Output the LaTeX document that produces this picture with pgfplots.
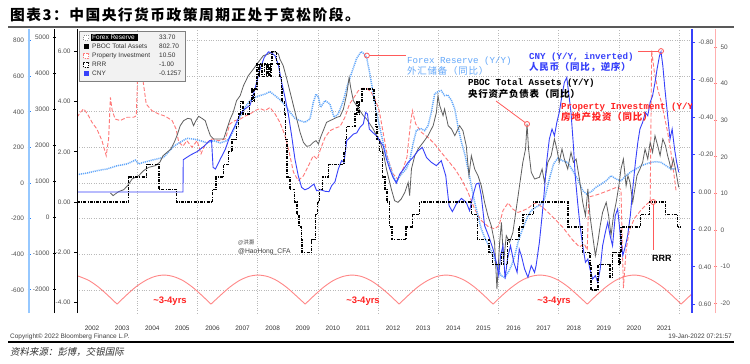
\documentclass[border=0pt]{standalone}
\usepackage{pgfplots}
\pgfplotsset{compat=1.18}
\usepackage{fontspec}
\setmainfont{Liberation Sans}
\newfontfamily\mono{Liberation Mono}
\newfontfamily\cjk{Noto Sans CJK SC}
\newfontfamily\cjkl[LetterSpace=8]{Noto Sans CJK SC}
\newfontfamily\cjktitle[LetterSpace=10]{Noto Sans CJK SC}
\newfontfamily\cjkit[FakeSlant=0.2]{Noto Sans CJK SC}
\definecolor{fxblue}{RGB}{100,168,250}
\definecolor{fxaxis}{RGB}{150,200,255}
\definecolor{fxtick}{RGB}{40,130,250}
\definecolor{cnyblue}{RGB}{55,65,250}
\definecolor{propred}{RGB}{255,120,120}
\definecolor{propaxis}{RGB}{255,175,175}
\definecolor{arcred}{RGB}{255,135,135}
\definecolor{pbocgray}{RGB}{95,95,95}
\definecolor{labred}{RGB}{255,35,35}
\definecolor{ptrred}{RGB}{255,90,90}
\definecolor{ticklab}{RGB}{80,80,80}
\definecolor{gridc}{RGB}{185,185,185}
\pgfplotsset{
  tl/.style={font=\fontsize{6.5}{7}\selectfont, text=ticklab},
  base/.style={at={(77bp,50bp)}, anchor=south west, width=615bp, height=284bp,
    scale only axis, xmin=2002, xmax=2022.43},
  scaleax/.style={anchor=south west, width=1bp, height=284bp, scale only axis,
    xmin=0, xmax=1, axis x line=none, yticklabel style={tl}, tick align=outside,
    major tick length=3bp},
}
\begin{document}
\begin{tikzpicture}[x=1bp,y=1bp]
\path[use as bounding box] (0,0) rectangle (750,363);
\fill[white] (0,0) rectangle (750,363);
% title and rules
\node[anchor=west, inner sep=0] at (10,348) {\cjktitle\bfseries\fontsize{14.8}{16}\selectfont 图表3：中国央行货币政策周期正处于宽松阶段。};
\draw[line width=1.8bp, black!65] (8,336) -- (734,336);
\draw[line width=1.4bp, black] (8,21) -- (734,21);
\node[anchor=west, inner sep=0, text=black!75, font=\fontsize{6.5}{7}\selectfont] at (10,26.5) {Copyright© 2022 Bloomberg Finance L.P.};
\node[anchor=east, inner sep=0, text=black!75, font=\fontsize{6.5}{7}\selectfont] at (732,26.5) {19-Jan-2022 07:21:57};
\node[anchor=west, inner sep=0, text=black!80] at (10,11) {\cjkit\fontsize{9.5}{10}\selectfont 资料来源：彭博，交银国际};

% grid, year labels, arcs
\begin{axis}[base, ymin=-730, ymax=865,
  axis line style={draw=none}, tick style={draw=none},
  xtick={2002.5,2003.5,2004.5,2005.5,2006.5,2007.5,2008.5,2009.5,2010.5,2011.5,2012.5,2013.5,2014.5,2015.5,2016.5,2017.5,2018.5,2019.5,2020.5,2021.5},
  xticklabels={2002,2003,2004,2005,2006,2007,2008,2009,2010,2011,2012,2013,2014,2015,2016,2017,2018,2019,2020,2021},
  xticklabel style={tl, text=black!80, yshift=-9bp},
  ytick={-600,-400,-200,0,200,400,600,800}, yticklabels={,,},
  ymajorgrids, xmajorgrids=false,
  extra x ticks={2004,2006,2008,2010,2012,2014,2016,2018,2020,2022}, extra x tick labels={,,},
  extra x tick style={grid=major},
  grid style={gridc, dotted, line width=0.6bp},
]
\addplot[arcred, line width=0.9bp, smooth] coordinates {(2002.00,-521)(2002.08,-525)(2002.40,-548)(2002.71,-584)(2003.02,-630)(2003.33,-680)};
\addplot[arcred, line width=0.9bp, smooth] coordinates {(2003.33,-680)(2003.64,-630)(2003.95,-584)(2004.27,-548)(2004.58,-525)(2004.89,-517)(2005.20,-525)(2005.52,-548)(2005.83,-584)(2006.14,-630)(2006.45,-680)};
\addplot[arcred, line width=0.9bp, smooth] coordinates {(2006.45,-680)(2006.77,-630)(2007.08,-584)(2007.39,-548)(2007.70,-525)(2008.01,-517)(2008.33,-525)(2008.64,-548)(2008.95,-584)(2009.26,-630)(2009.58,-680)};
\addplot[arcred, line width=0.9bp, smooth] coordinates {(2009.58,-680)(2009.89,-630)(2010.20,-584)(2010.51,-548)(2010.83,-525)(2011.14,-517)(2011.45,-525)(2011.76,-548)(2012.07,-584)(2012.39,-630)(2012.70,-680)};
\addplot[arcred, line width=0.9bp, smooth] coordinates {(2012.70,-680)(2013.01,-630)(2013.32,-584)(2013.64,-548)(2013.95,-525)(2014.26,-517)(2014.57,-525)(2014.89,-548)(2015.20,-584)(2015.51,-630)(2015.82,-680)};
\addplot[arcred, line width=0.9bp, smooth] coordinates {(2015.82,-680)(2016.13,-630)(2016.45,-584)(2016.76,-548)(2017.07,-525)(2017.38,-517)(2017.70,-525)(2018.01,-548)(2018.32,-584)(2018.63,-630)(2018.95,-680)};
\addplot[arcred, line width=0.9bp, smooth] coordinates {(2018.95,-680)(2019.26,-630)(2019.57,-584)(2019.88,-548)(2020.20,-525)(2020.51,-517)(2020.82,-525)(2021.13,-548)(2021.45,-584)(2021.76,-630)(2022.07,-680)};
\addplot[arcred, line width=0.9bp, smooth] coordinates {(2022.07,-680)(2022.38,-630)(2022.50,-612)};
\end{axis}

% Property investment (red axis)
\begin{axis}[base, ymin=-22.68, ymax=54.92, hide axis]
\addplot[propred, line width=0.9bp, dash pattern=on 4bp off 2bp] coordinates {
(2002.00,30.8)(2002.11,32.1)(2002.22,33.1)(2002.35,31.7)(2002.50,29.4)(2002.66,27.6)(2002.83,24.4)(2002.97,20.3)(2003.05,24.9)(2003.11,36.2)(2003.17,32.6)(2003.27,30.3)(2003.44,29.9)(2003.66,30.8)(2003.88,30.8)(2003.97,31.2)(2004.03,45.8)(2004.08,47.6)(2004.17,42.2)(2004.30,34.4)(2004.49,32.6)(2004.71,31.7)(2004.93,31.1)(2005.16,29.9)(2005.29,27.6)(2005.38,24.0)(2005.52,22.9)(2005.65,24.4)(2005.82,22.6)(2005.99,24.4)(2006.12,20.8)(2006.26,23.5)(2006.49,24.9)(2006.71,24.4)(2006.93,24.9)(2007.08,29.0)(2007.25,29.9)(2007.42,30.3)(2007.58,31.1)(2007.75,31.7)(2007.91,32.6)(2008.08,33.2)(2008.25,32.6)(2008.41,33.5)(2008.58,31.7)(2008.74,29.4)(2008.91,25.8)(2009.05,21.2)(2009.19,15.8)(2009.35,13.5)(2009.52,14.8)(2009.69,17.6)(2009.85,20.3)(2009.98,19.4)(2010.09,22.1)(2010.24,25.3)(2010.40,27.1)(2010.57,27.8)(2010.74,28.3)(2010.90,30.8)(2011.05,34.4)(2011.20,36.2)(2011.35,38.1)(2011.49,38.7)(2011.62,38.7)(2011.76,37.8)(2011.90,35.8)(2012.04,32.6)(2012.15,27.5)(2012.33,19.4)(2012.50,15.3)(2012.66,13.9)(2012.83,16.7)(2012.96,19.9)(2013.07,28.5)(2013.14,32.6)(2013.25,29.0)(2013.44,26.7)(2013.66,25.3)(2013.88,23.5)(2014.10,21.2)(2014.33,18.9)(2014.55,16.7)(2014.77,13.9)(2014.99,10.3)(2015.21,5.7)(2015.43,2.6)(2015.65,1.0)(2015.87,0.3)(2016.02,1.2)(2016.15,5.3)(2016.32,7.4)(2016.48,5.7)(2016.65,4.8)(2016.81,5.3)(2016.98,5.9)(2017.15,7.1)(2017.25,7.4)(2017.50,6.0)(2017.80,3.6)(2018.13,0.8)(2018.46,-2.7)(2018.69,-4.6)(2018.85,-3.8)(2018.95,-5.5)(2019.00,9.0)(2019.30,9.7)(2019.60,10.6)(2019.96,11.8)(2020.07,11.0)(2020.15,-15.9)(2020.24,-5.5)(2020.35,0.0)(2020.52,3.2)(2020.74,5.5)(2020.96,7.3)(2021.04,7.7)(2021.09,49.0)(2021.18,43.1)(2021.29,38.5)(2021.40,35.3)(2021.51,31.2)(2021.62,26.7)(2021.73,21.2)(2021.82,15.8)(2021.90,10.7)};
\end{axis}

% Forex reserve
\begin{axis}[base, ymin=-730, ymax=865, hide axis]
\addplot[fxblue, line width=1.5bp, dash pattern=on 1.1bp off 0.9bp] coordinates {
(2002.00,47)(2002.33,56)(2002.66,69)(2003.00,79)(2003.33,97)(2003.66,107)(2003.94,129)(2004.05,107)(2004.21,116)(2004.55,131)(2004.88,144)(2005.21,206)(2005.43,229)(2005.65,251)(2005.87,247)(2006.10,238)(2006.32,225)(2006.54,238)(2006.76,225)(2006.98,238)(2007.08,257)(2007.25,313)(2007.42,375)(2007.58,425)(2007.75,463)(2007.91,481)(2008.08,491)(2008.25,500)(2008.41,513)(2008.58,491)(2008.74,468)(2008.91,438)(2009.08,397)(2009.24,363)(2009.41,350)(2009.57,341)(2009.74,360)(2009.85,453)(2009.94,500)(2010.02,481)(2010.09,425)(2010.24,463)(2010.40,444)(2010.54,369)(2010.68,388)(2010.85,463)(2010.98,547)(2011.13,622)(2011.29,700)(2011.44,738)(2011.54,725)(2011.62,706)(2011.73,612)(2011.84,500)(2011.95,397)(2012.07,303)(2012.17,225)(2012.28,154)(2012.39,97)(2012.50,41)(2012.61,4)(2012.72,37)(2012.83,60)(2012.94,79)(2013.05,125)(2013.16,219)(2013.27,294)(2013.41,307)(2013.55,294)(2013.66,322)(2013.77,397)(2013.88,500)(2013.99,513)(2014.10,519)(2014.21,491)(2014.32,494)(2014.44,463)(2014.55,416)(2014.66,313)(2014.77,229)(2014.88,163)(2014.99,79)(2015.10,-15)(2015.21,-109)(2015.32,-184)(2015.43,-258)(2015.54,-305)(2015.65,-343)(2015.76,-380)(2015.87,-427)(2015.98,-483)(2016.09,-521)(2016.21,-530)(2016.32,-502)(2016.43,-465)(2016.54,-408)(2016.65,-333)(2016.76,-277)(2016.87,-230)(2016.98,-184)(2017.09,-155)(2017.20,-140)(2017.36,-125)(2017.53,-90)(2017.69,22)(2017.83,107)(2017.97,139)(2018.13,125)(2018.30,116)(2018.47,69)(2018.63,22)(2018.80,-43)(2018.93,-62)(2019.08,-49)(2019.24,-24)(2019.41,-6)(2019.58,13)(2019.74,41)(2019.91,22)(2020.07,13)(2020.24,41)(2020.41,64)(2020.57,79)(2020.74,97)(2020.90,107)(2021.07,116)(2021.24,120)(2021.40,116)(2021.57,97)(2021.73,79)(2021.90,79)};
\addplot[only marks, mark=o, mark size=2.5bp, ptrred, mark options={line width=0.8bp}] coordinates {(2011.63,716)};
\coordinate (fxpt) at (axis cs:2011.63,716);
\end{axis}

% PBOC total assets
\begin{axis}[base, ymin=-2667, ymax=5223, hide axis]
\addplot[pbocgray, line width=0.8bp] coordinates {
(2003.11,667)(2003.20,593)(2003.27,639)(2003.38,704)(2003.55,759)(2003.68,870)(2003.83,1056)(2004.05,1148)(2004.21,1287)(2004.38,1380)(2004.60,1426)(2004.75,1519)(2004.86,1704)(2004.99,1796)(2005.12,1889)(2005.23,2074)(2005.32,2259)(2005.43,2537)(2005.54,2676)(2005.68,2741)(2005.79,2722)(2005.87,2537)(2005.95,2676)(2006.04,2797)(2006.15,2741)(2006.26,2676)(2006.35,2445)(2006.43,2259)(2006.54,2167)(2006.71,2167)(2006.87,2167)(2006.98,2445)(2007.09,2722)(2007.19,2908)(2007.30,3232)(2007.42,3371)(2007.53,3648)(2007.69,3926)(2007.86,4111)(2008.02,4297)(2008.19,4482)(2008.36,4528)(2008.47,4574)(2008.58,4593)(2008.69,4528)(2008.74,4389)(2008.85,4204)(2008.97,3834)(2009.08,3463)(2009.19,3093)(2009.30,2722)(2009.41,2352)(2009.52,2074)(2009.63,1963)(2009.74,1982)(2009.85,2074)(2009.94,2121)(2010.02,2028)(2010.09,2213)(2010.18,2398)(2010.29,2630)(2010.40,2676)(2010.52,2722)(2010.63,2769)(2010.74,2797)(2010.85,3000)(2010.96,3417)(2011.04,3880)(2011.09,3602)(2011.18,3232)(2011.29,3093)(2011.40,2954)(2011.51,2815)(2011.62,2722)(2011.73,2584)(2011.84,2445)(2011.95,2259)(2012.06,2121)(2012.17,1800)(2012.28,1333)(2012.44,778)(2012.55,454)(2012.66,407)(2012.77,500)(2012.89,685)(2013.00,963)(2013.05,593)(2013.11,1333)(2013.22,1704)(2013.33,1889)(2013.50,2074)(2013.66,2259)(2013.83,2537)(2013.94,2908)(2013.99,3371)(2014.05,3093)(2014.16,2815)(2014.21,3000)(2014.33,2537)(2014.44,2445)(2014.55,2259)(2014.71,2537)(2014.82,2398)(2014.93,1982)(2015.02,1148)(2015.10,1704)(2015.21,1333)(2015.32,1148)(2015.43,870)(2015.54,407)(2015.65,37)(2015.76,-241)(2015.87,-704)(2015.95,-2000)(2016.04,-704)(2016.10,-148)(2016.17,-1259)(2016.26,-519)(2016.37,-704)(2016.48,-426)(2016.59,222)(2016.70,870)(2016.81,1519)(2016.90,1889)(2016.95,2584)(2017.00,1889)(2017.09,1241)(2017.20,1056)(2017.36,1102)(2017.45,1333)(2017.53,963)(2017.64,1519)(2017.75,1704)(2017.86,2167)(2017.94,1889)(2018.02,1519)(2018.11,1889)(2018.19,1611)(2018.30,1333)(2018.41,1796)(2018.49,1519)(2018.58,1611)(2018.69,1056)(2018.80,407)(2018.89,37)(2018.97,778)(2019.04,37)(2019.13,-519)(2019.22,-1074)(2019.30,-704)(2019.38,-241)(2019.46,130)(2019.58,407)(2019.66,37)(2019.74,-519)(2019.82,37)(2019.91,407)(2020.00,870)(2020.07,1333)(2020.15,1611)(2020.24,870)(2020.30,1148)(2020.37,963)(2020.46,407)(2020.53,778)(2020.60,1148)(2020.70,1333)(2020.79,1519)(2020.87,1889)(2020.96,1611)(2021.04,2074)(2021.12,1796)(2021.20,2259)(2021.29,1982)(2021.37,1704)(2021.46,2167)(2021.55,1982)(2021.62,1704)(2021.68,1519)(2021.73,1333)(2021.81,1611)(2021.88,1333)(2021.95,1009)(2021.99,824)};
\addplot[only marks, mark=o, mark size=2.5bp, ptrred, mark options={line width=0.8bp}] coordinates {(2016.95,2584)};
\coordinate (pbocpt) at (axis cs:2016.95,2584);
\end{axis}

% CNY (inverted, right blue axis)
\begin{axis}[base, ymin=-0.872, ymax=0.647, y dir=reverse,
  axis x line=none, axis y line*=right,
  y axis line style={-, cnyblue, line width=1.2bp},
  ytick={-0.8,-0.6,-0.4,-0.2,0,0.2,0.4,0.6},
  yticklabels={-0.80,-0.60,-0.40,-0.20,0.00,0.20,0.40,0.60},
  yticklabel style={tl}, tick align=outside, major tick length=3bp,
  ytick style={cnyblue, line width=0.8bp}]
\addplot[cnyblue, line width=0.9bp] coordinates {
(2002.00,0)(2005.52,0)(2005.53,-0.173)(2005.77,-0.198)(2005.99,-0.216)(2006.21,-0.244)(2006.41,-0.275)(2006.47,-0.275)(2006.52,-0.132)(2006.60,-0.123)(2006.76,-0.176)(2006.93,-0.230)(2007.08,-0.298)(2007.25,-0.355)(2007.42,-0.417)(2007.58,-0.444)(2007.75,-0.465)(2007.91,-0.551)(2008.08,-0.658)(2008.22,-0.720)(2008.36,-0.750)(2008.47,-0.743)(2008.58,-0.729)(2008.69,-0.679)(2008.80,-0.586)(2008.91,-0.506)(2009.02,-0.417)(2009.13,-0.301)(2009.24,-0.176)(2009.35,-0.087)(2009.46,-0.025)(2009.57,-0.012)(2009.69,-0.020)(2009.80,-0.034)(2009.87,-0.043)(2009.96,-0.007)(2010.09,-0.012)(2010.24,-0.004)(2010.37,-0.002)(2010.46,-0.034)(2010.57,-0.055)(2010.68,-0.123)(2010.79,-0.168)(2010.87,-0.159)(2010.96,-0.275)(2011.07,-0.292)(2011.18,-0.310)(2011.29,-0.316)(2011.40,-0.346)(2011.51,-0.364)(2011.59,-0.426)(2011.65,-0.417)(2011.71,-0.337)(2011.82,-0.319)(2011.95,-0.301)(2012.09,-0.266)(2012.17,-0.248)(2012.28,-0.176)(2012.39,-0.123)(2012.50,-0.078)(2012.61,-0.048)(2012.72,-0.096)(2012.85,-0.123)(2013.00,-0.159)(2013.16,-0.185)(2013.33,-0.221)(2013.47,-0.239)(2013.61,-0.185)(2013.77,-0.159)(2013.94,-0.141)(2014.10,-0.168)(2014.25,-0.087)(2014.36,0.073)(2014.47,0.105)(2014.60,0.064)(2014.77,0.034)(2014.93,0.055)(2015.04,0.100)(2015.15,0.020)(2015.26,-0.043)(2015.35,-0.048)(2015.43,0.020)(2015.54,0.180)(2015.69,0.242)(2015.82,0.305)(2015.93,0.376)(2016.01,0.447)(2016.07,0.340)(2016.15,0.287)(2016.22,0.465)(2016.30,0.358)(2016.40,0.287)(2016.51,0.376)(2016.62,0.430)(2016.69,0.305)(2016.76,0.340)(2016.87,0.412)(2016.98,0.456)(2017.09,0.394)(2017.20,0.430)(2017.25,0.394)(2017.36,0.269)(2017.45,0.127)(2017.53,-0.016)(2017.60,-0.159)(2017.69,-0.283)(2017.78,-0.337)(2017.86,-0.301)(2017.94,-0.373)(2018.02,-0.426)(2018.11,-0.515)(2018.19,-0.586)(2018.27,-0.613)(2018.33,-0.533)(2018.41,-0.426)(2018.49,-0.248)(2018.55,-0.087)(2018.63,0.055)(2018.71,0.180)(2018.80,0.287)(2018.89,0.376)(2018.97,0.358)(2019.04,0.412)(2019.13,0.465)(2019.22,0.447)(2019.30,0.483)(2019.38,0.412)(2019.46,0.287)(2019.55,0.216)(2019.63,0.162)(2019.71,0.234)(2019.79,0.287)(2019.88,0.127)(2019.96,0.091)(2020.04,0.216)(2020.13,0.340)(2020.22,0.287)(2020.29,0.234)(2020.38,0.127)(2020.46,-0.016)(2020.55,-0.159)(2020.63,-0.266)(2020.70,-0.337)(2020.79,-0.373)(2020.88,-0.426)(2020.96,-0.408)(2021.04,-0.480)(2021.12,-0.515)(2021.20,-0.586)(2021.27,-0.658)(2021.35,-0.729)(2021.40,-0.750)(2021.46,-0.676)(2021.53,-0.551)(2021.62,-0.408)(2021.70,-0.283)(2021.77,-0.337)(2021.85,-0.230)(2021.92,-0.159)(2021.99,-0.105)};
\addplot[only marks, mark=o, mark size=2.5bp, ptrred, mark options={line width=0.8bp}] coordinates {(2021.40,-0.754)};
\coordinate (cnypt) at (axis cs:2021.40,-0.754);
\end{axis}

% RRR (inner left axis)
\begin{axis}[base, ymin=-4.422, ymax=6.892,
  axis x line=none, axis y line*=left,
  y axis line style={-, black, line width=1bp},
  ytick={-4,-2,0,2,4,6}, yticklabels={-4.00,-2.00,0.00,2.00,4.00,6.00},
  yticklabel style={tl}, tick align=outside, major tick length=3bp,
  ytick style={black, line width=0.8bp}]
\addplot[const plot, black, line width=1.4bp, dash pattern=on 3bp off 1.2bp on 1bp off 1.2bp] coordinates {
(2002.00,0)(2003.72,1.0)(2004.31,1.5)(2004.72,0.5)(2005.31,0)(2006.51,0.5)(2006.62,1.0)(2006.87,1.5)(2007.04,2.0)(2007.15,2.5)(2007.29,3.0)(2007.37,3.5)(2007.43,4.0)(2007.51,3.5)(2007.73,4.0)(2007.81,4.5)(2007.87,4.0)(2007.90,4.5)(2007.98,5.5)(2008.04,5.0)(2008.07,5.5)(2008.15,5.0)(2008.23,5.5)(2008.29,5.0)(2008.31,5.5)(2008.37,5.0)(2008.38,5.5)(2008.43,5.0)(2008.45,5.5)(2008.48,6.0)(2008.62,5.5)(2008.73,5.0)(2008.79,4.5)(2008.81,4.0)(2008.90,3.5)(2008.93,2.5)(2008.98,1.0)(2009.07,0.5)(2009.23,0)(2009.31,-0.5)(2009.38,-1.0)(2009.45,-1.5)(2009.48,-2.0)(2009.79,-1.5)(2009.93,-0.5)(2009.98,0)(2010.05,0.5)(2010.15,1.0)(2010.36,1.5)(2010.87,2.0)(2010.91,2.5)(2010.96,3.0)(2011.23,3.5)(2011.30,4.0)(2011.36,3.5)(2011.38,4.0)(2011.47,4.5)(2011.87,4.0)(2011.91,3.5)(2011.93,3.0)(2011.96,2.5)(2012.05,2.0)(2012.15,1.0)(2012.23,0.5)(2012.30,0)(2012.38,-1.0)(2012.47,-1.5)(2012.93,-1.0)(2013.15,-0.5)(2013.38,0)(2015.10,-0.5)(2015.30,-1.5)(2015.68,-2.0)(2015.81,-2.5)(2016.10,-2.0)(2016.16,-2.5)(2016.30,-1.5)(2016.68,-1.0)(2016.81,-0.5)(2017.16,0)(2018.31,-1.0)(2018.79,-2.0)(2019.04,-2.5)(2019.07,-3.5)(2019.31,-2.5)(2019.71,-3.0)(2019.79,-2.0)(2020.01,-2.5)(2020.04,-2.0)(2020.07,-1.0)(2020.71,-0.5)(2021.01,0)(2021.54,-0.5)(2021.95,-1.0)(2022.05,-1.0)};
\addplot[only marks, mark=o, mark size=2.5bp, ptrred, mark options={line width=0.8bp}] coordinates {(2021.14,0)};
\coordinate (rrrpt) at (axis cs:2021.14,0);
\end{axis}

% outer scale axes
\begin{axis}[scaleax, at={(29bp,50bp)}, ymin=-730, ymax=865, axis y line=left,
  y axis line style={-, fxaxis, line width=1.3bp},
  ytick={-600,-400,-200,0,200,400,600,800}, yticklabels={-600,-400,-200,0,200,400,600,800},
  ytick style={fxtick, line width=0.8bp}]
\addplot[draw=none] coordinates {(0,0)};
\end{axis}
\begin{axis}[scaleax, at={(54.5bp,50bp)}, ymin=-2667, ymax=5223, axis y line=left,
  y axis line style={-, black, line width=1bp},
  ytick={-2000,-1000,0,1000,2000,3000,4000,5000}, yticklabels={-2000,-1000,0,1000,2000,3000,4000,5000},
  ytick style={black, line width=0.8bp}]
\addplot[draw=none] coordinates {(0,0)};
\end{axis}
\begin{axis}[scaleax, at={(714.5bp,50bp)}, ymin=-22.68, ymax=54.92, axis y line=right,
  y axis line style={-, propaxis, line width=1.3bp},
  ytick={-20,-10,0,10,20,30,40,50}, yticklabels={-20,-10,0,10,20,30,40,50},
  ytick style={propred, line width=0.8bp}]
\addplot[draw=none] coordinates {(0,0)};
\end{axis}

% annotations
\tikzset{ptr/.style={ptrred, line width=0.8bp}}
\draw[ptr, shorten <=2.5bp] (fxpt) -- ++(39,0);
\draw[ptr, shorten <=2.5bp] (pbocpt) -- (496,262);
\draw[ptr, shorten <=2.5bp] (cnypt) -- ++(-23,0);
\draw[ptr, shorten <=2.5bp] (rrrpt) -- ++(0,-48);

\node[anchor=west, inner sep=0, text=fxblue] at (407,302.3) {\mono\fontsize{9.2}{10}\selectfont Forex Reserve (Y/Y)};
\node[anchor=west, inner sep=0, text=fxblue] at (407,292.5) {\cjkl\fontsize{9.5}{10}\selectfont 外汇储备（同比）};
\node[anchor=west, inner sep=0, text=black] at (468,279.7) {\mono\bfseries\fontsize{9.2}{10}\selectfont PBOC Total Assets (Y/Y)};
\node[anchor=west, inner sep=0, text=black] at (468,268.7) {\cjkl\bfseries\fontsize{9.5}{10}\selectfont 央行资产负债表（同比）};
\node[anchor=west, inner sep=0, text=cnyblue] at (529,306.3) {\mono\bfseries\fontsize{9.2}{10}\selectfont CNY (Y/Y, inverted)};
\node[anchor=west, inner sep=0, text=cnyblue] at (529,295.7) {\cjkl\bfseries\fontsize{9.5}{10}\selectfont 人民币（同比，逆序）};
\begin{scope}
\clip (0,0) rectangle (691.5,363);
\node[anchor=west, inner sep=0, text=labred] at (561,256.3) {\mono\bfseries\fontsize{9.2}{10}\selectfont Property Investment (Y/Y)};
\node[anchor=west, inner sep=0, text=labred] at (561,245.7) {\cjkl\bfseries\fontsize{9.5}{10}\selectfont 房地产投资（同比）};
\end{scope}
\node[anchor=west, inner sep=0, text=black] at (652,105) {\bfseries\fontsize{9}{10}\selectfont RRR};
\foreach \xx in {170,363,554} {
  \node[text=labred, inner sep=0] at (\xx,61.5) {\bfseries\fontsize{9.5}{10}\selectfont \textasciitilde3-4yrs};
}
\node[anchor=west, inner sep=0, text=black!75] at (238,120.5) {\cjk\fontsize{5.5}{6}\selectfont @洪灏};
\node[anchor=west, inner sep=0, text=black!75] at (238,111) {\fontsize{6.8}{7}\selectfont @HaoHong\_CFA};

% legend box
\begin{scope}[font=\fontsize{6.5}{7}\selectfont]
\filldraw[fill=black!5, draw=black!50, line width=0.6bp] (79,282) rectangle (185,332);
\fill[black] (90.5,321.6) rectangle (137.5,329.4);
\filldraw[fill=white, draw=black!45, dotted, line width=0.6bp] (83.5,323) rectangle (88.5,328);
\node[anchor=west, inner sep=0, text=white] at (92,325.5) {Forex Reserve};
\node[anchor=west, inner sep=0, text=black!80] at (159,325.5) {33.70};
\fill[black] (83.5,314) rectangle (88.5,319);
\node[anchor=west, inner sep=0, text=black!80] at (92,316.5) {PBOC Total Assets};
\node[anchor=west, inner sep=0, text=black!80] at (159,316.5) {802.70};
\filldraw[fill=white, draw=propred, dash pattern=on 1.5bp off 1bp, line width=0.6bp] (83.5,305) rectangle (88.5,310);
\node[anchor=west, inner sep=0, text=black!80] at (92,307.5) {Property Investment};
\node[anchor=west, inner sep=0, text=black!80] at (159,307.5) {10.50};
\filldraw[fill=white, draw=black, dash pattern=on 1.5bp off 1bp, line width=0.6bp] (83.5,296) rectangle (88.5,301);
\node[anchor=west, inner sep=0, text=black!80] at (92,298.5) {RRR};
\node[anchor=west, inner sep=0, text=black!80] at (159,298.5) {-1.00};
\fill[cnyblue] (83.5,287) rectangle (88.5,292);
\node[anchor=west, inner sep=0, text=black!80] at (92,289.5) {CNY};
\node[anchor=west, inner sep=0, text=black!80] at (159,289.5) {-0.1257};
\end{scope}
\end{tikzpicture}
\end{document}
